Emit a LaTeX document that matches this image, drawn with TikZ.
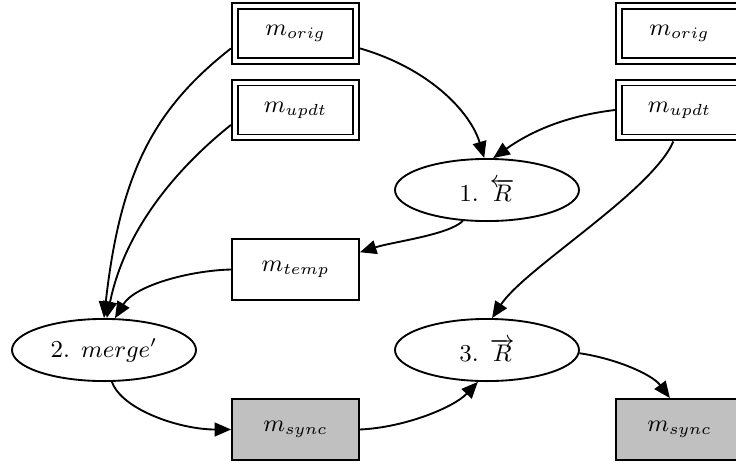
\documentclass[tikz,border=0pt]{standalone}
\usetikzlibrary{arrows.meta,shapes.geometric}
\definecolor{syncgray}{RGB}{192,192,192}
\begin{document}
\begin{tikzpicture}[x=0.375pt,y=0.375pt,line width=0.7pt,
  every node/.style={font=\fontsize{9.1}{11}\selectfont},
  dbox/.style={draw, double, double distance=1.5pt, rectangle, minimum width=45.4pt, minimum height=20.6pt, inner sep=0pt, outer sep=1.5pt},
  sbox/.style={draw, rectangle, minimum width=47.6pt, minimum height=22.9pt, inner sep=0pt},
  gbox/.style={sbox, fill=syncgray},
  oval/.style={draw, ellipse, minimum width=69pt, minimum height=23.3pt, inner sep=0pt},
  arr/.style={-{Triangle[length=6.2pt,width=5.2pt]}},
]
\useasboundingbox (0,0) rectangle (736,466);
\clip (0,0) rectangle (736,466);
\node[dbox] (origL) at (295.5,432.5) {$m_{orig}$};
\node[dbox] (updtL) at (295.5,356) {$m_{updt}$};
\node[dbox] (origR) at (679.5,432.5) {$m_{orig}$};
\node[dbox] (updtR) at (679.5,356) {$m_{updt}$};
\node[oval] (R1) at (487,276) {1. $\overleftarrow{R}$};
\node[sbox] (temp) at (295.5,196.5) {$m_{temp}$};
\node[oval] (merge) at (104,116) {2. $merge'$};
\node[oval] (R3) at (487,116) {3. $\overrightarrow{R}$};
\node[gbox] (syncL) at (295.5,36.5) {$m_{sync}$};
\node[gbox] (syncR) at (679.5,36.5) {$m_{sync}$};

\draw[arr] (origL.-13) .. controls +(72,-21) and +(-13,44) .. (R1.95);
\draw[arr] (updtR.west) .. controls +(-45,-5.4) and +(41,29) .. (R1.79);
\draw[arr] (R1.232) .. controls +(-14,-14) and +(33,10.5) .. (temp.15);
\draw[arr] (origL.193) .. controls +(-75,-59) and +(16.5,148.5) .. (merge.north);
\draw[arr] (updtL.193) .. controls +(-55,-44) and +(18,88) .. (merge.85);
\draw[arr] (temp.west) .. controls +(-41,-1) and +(20,33) .. (merge.71);
\draw[arr] (merge.284) .. controls +(10,-28) and +(-51,0) .. (syncL.west);
\draw[arr] (syncL.east) .. controls +(45,2) and +(-24,-25.5) .. (R3.254);
\draw[arr] (updtR.259) .. controls +(-22,-50.6) and +(33,50) .. (R3.81);
\draw[arr] (R3.-2) .. controls +(35,-5) and +(-18,24) .. (syncR.107);
\end{tikzpicture}
\end{document}
